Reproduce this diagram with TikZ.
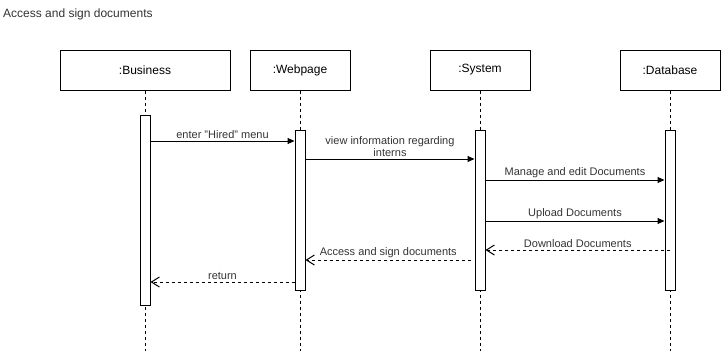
\documentclass[tikz,border=0pt]{standalone}
\usepackage{fontspec}
\setmainfont{Liberation Sans}
\usetikzlibrary{arrows.meta}

\begin{document}
\begin{tikzpicture}[x=1pt, y=-1pt,
  obj/.style={draw, line width=1pt, minimum width=#1, minimum height=40pt,
    inner sep=0pt, font=\fontsize{12}{14}\selectfont},
  act/.style={draw, fill=white, line width=1pt, minimum width=10pt,
    minimum height=#1, inner sep=0pt},
  life/.style={line width=1pt, dash pattern=on 3pt off 3pt},
  call/.style={line width=1pt, -{Triangle[length=7pt, width=6pt]}},
  reply/.style={line width=1pt, dash pattern=on 3pt off 3pt,
    -{Straight Barb[length=8pt, width=10pt, line width=1pt]}},
  lbl/.style={above, inner sep=1.5pt, align=center, text=black!80,
    font=\fontsize{11}{12}\selectfont}]
  \useasboundingbox (0,0) rectangle (721,351);

  % Title
  \node[anchor=west, inner sep=0pt, text=black!80, font=\fontsize{12}{14}\selectfont]
    (title) at (3,14) {Access and sign documents};

  % Objects
  \node[obj=170pt] (business) at (145,70) {:Business};
  \node[obj=100pt] (webpage)  at (300,70) {:Webpage};
  \node[obj=100pt] (system)   at (480,70) {:System};
  \node[obj=100pt] (database) at (670,70) {:Database};

  % Lifelines
  \coordinate (bizend) at (145,351);
  \coordinate (webend) at (300,351);
  \coordinate (sysend) at (480,351);
  \coordinate (dbend)  at (670,351);
  \draw[life] (business.south) -- (bizend);
  \draw[life] (webpage.south)  -- (webend);
  \draw[life] (system.south)   -- (sysend);
  \draw[life] (database.south) -- (dbend);

  % Activation bars
  \node[act=190pt] (bizact) at (145,210) {};
  \node[act=160pt] (webact) at (300,210) {};
  \node[act=160pt] (sysact) at (480,210) {};
  \node[act=160pt] (dbact)  at (670,210) {};

  % Messages
  \draw[call] (bizact.east |- 0,141) -- node[lbl] {enter "Hired" menu} (webact.west |- 0,141);
  \draw[call] (webact.east |- 0,159) -- node[lbl] {view information regarding\\interns} (sysact.west |- 0,159);
  \draw[call] (sysact.east |- 0,180) -- node[lbl] {Manage and edit Documents} (dbact.west |- 0,180);
  \draw[call] (sysact.east |- 0,221) -- node[lbl] {Upload Documents} (dbact.west |- 0,221);
  \draw[reply] (dbact.center |- 0,250) -- node[lbl] {Download Documents} (sysact.east |- 0,250);
  \draw[reply] (471,260) -- node[lbl] {Access and sign documents} (webact.east |- 0,260);
  \draw[reply] (webact.west |- 0,282) -- node[lbl] {return} (bizact.east |- 0,282);
\end{tikzpicture}
\end{document}
